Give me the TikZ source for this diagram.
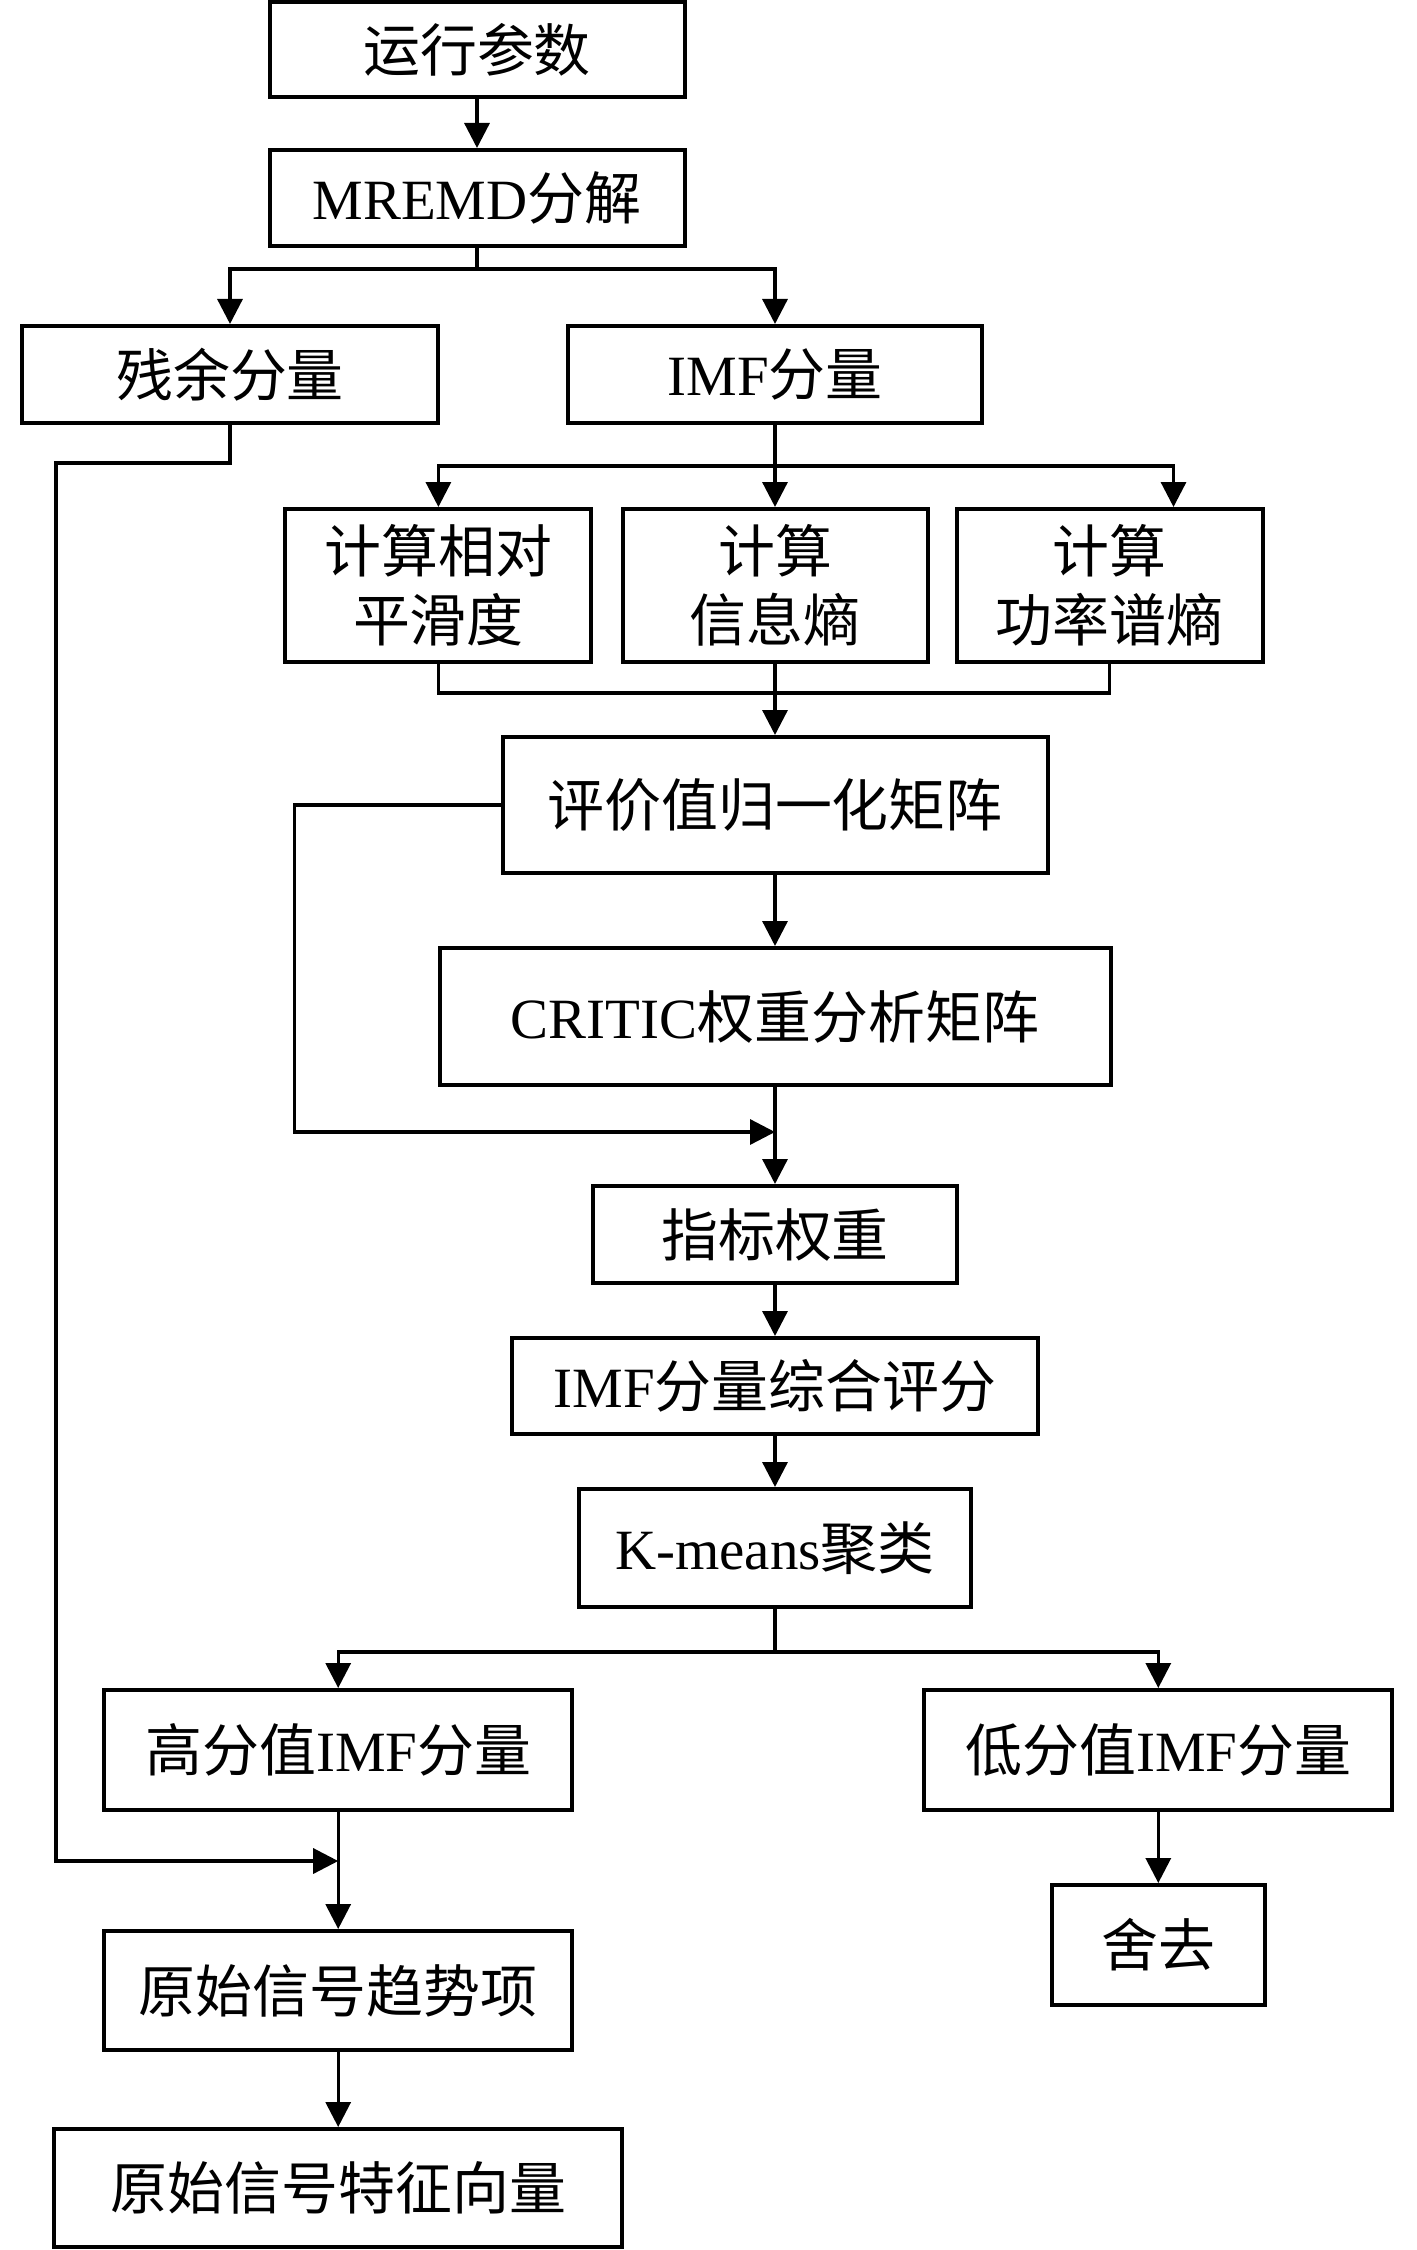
\documentclass[tikz,border=0pt]{standalone}
\usepackage{fontspec}
\setmainfont{Liberation Serif}
\newfontfamily\cjk{Noto Sans CJK SC}
\newcommand\zhs[1]{{\cjk #1}}
\usetikzlibrary{arrows.meta}
\begin{document}
\begin{tikzpicture}[x=0.1mm, y=-0.1mm,
  box/.style={draw, line width=0.4mm, inner sep=0pt, align=center,
    font=\fontsize{16.2pt}{19.6pt}\selectfont},
  conn/.style={line width=0.33mm},
  arr/.style={conn, -{Triangle[length=2.5mm,width=2.5mm]}}]
\useasboundingbox (0,0) rectangle (1417,2250);
% boxes
\node[box, minimum width=41.5mm, minimum height=9.5mm] (run) at (477,50) {\zhs{运行参数}};
\node[box, minimum width=41.5mm, minimum height=9.6mm] (mremd) at (477,198) {MREMD\zhs{分解}};
\node[box, minimum width=41.6mm, minimum height=9.7mm] (res) at (230,374.5) {\zhs{残余分量}};
\node[box, minimum width=41.4mm, minimum height=9.7mm] (imf) at (775,374.5) {IMF\zhs{分量}};
\node[box, minimum width=30.6mm, minimum height=15.3mm] (smooth) at (438.4,585.5) {\zhs{计算相对}\\\zhs{平滑度}};
\node[box, minimum width=30.5mm, minimum height=15.3mm] (info) at (775,585.5) {\zhs{计算}\\\zhs{信息熵}};
\node[box, minimum width=30.6mm, minimum height=15.3mm] (power) at (1109.7,585.5) {\zhs{计算}\\\zhs{功率谱熵}};
\node[box, minimum width=54.5mm, minimum height=13.6mm] (norm) at (775,805) {\zhs{评价值归一化矩阵}};
\node[box, minimum width=67.1mm, minimum height=13.7mm] (critic) at (775,1016.5) {CRITIC\zhs{权重分析矩阵}};
\node[box, minimum width=36.35mm, minimum height=9.7mm] (weight) at (775,1234.5) {\zhs{指标权重}};
\node[box, minimum width=52.65mm, minimum height=9.6mm] (score) at (775,1386) {IMF\zhs{分量综合评分}};
\node[box, minimum width=39.2mm, minimum height=11.8mm] (kmeans) at (775,1548) {K-means\zhs{聚类}};
\node[box, minimum width=46.8mm, minimum height=12mm] (high) at (338.2,1750) {\zhs{高分值}IMF\zhs{分量}};
\node[box, minimum width=46.8mm, minimum height=12mm] (low) at (1158.3,1750) {\zhs{低分值}IMF\zhs{分量}};
\node[box, minimum width=46.8mm, minimum height=11.9mm] (trend) at (338.2,1990.5) {\zhs{原始信号趋势项}};
\node[box, minimum width=21.3mm, minimum height=12mm] (drop) at (1158.3,1945) {\zhs{舍去}};
\node[box, minimum width=56.8mm, minimum height=11.8mm] (feat) at (338.2,2188) {\zhs{原始信号特征向量}};
% connectors
\draw[arr] (run.south) -- (mremd.north);
\coordinate (f1) at (477,269);
\draw[conn] (mremd.south) -- (f1);
\draw[arr] (f1) -| (res.north);
\draw[arr] (f1) -| (imf.north);
% residual path
\coordinate (r1) at (56,463);
\coordinate (r2) at (56,1861);
\coordinate (r3) at (338.2,1861);
\draw[arr] (res.south) -- (res.south |- r1) -- (r1) -- (r2) -- (r3);
% IMF fork
\coordinate (f2) at (775,466);
\coordinate (p1) at (1173.5,466);
\draw[conn] (imf.south) -- (f2);
\draw[arr] (f2) -| (smooth.north);
\draw[arr] (f2) -- (info.north);
\draw[arr] (f2) -- (p1) -- (p1 |- power.north);
% merge
\coordinate (m) at (775,693);
\draw[conn] (smooth.south) |- (m);
\draw[conn] (power.south) |- (m);
\draw[conn] (info.south) -- (m);
\draw[arr] (m) -- (norm.north);
\draw[arr] (norm.south) -- (critic.north);
% loop
\coordinate (l1) at (294.6,1132);
\coordinate (l2) at (775,1132);
\draw[arr] (norm.west) -| (l1) -- (l2);
\draw[arr] (critic.south) -- (weight.north);
\draw[arr] (weight.south) -- (score.north);
\draw[arr] (score.south) -- (kmeans.north);
% kmeans fork
\coordinate (f3) at (775,1652);
\draw[conn] (kmeans.south) -- (f3);
\draw[arr] (f3) -| (high.north);
\draw[arr] (f3) -| (low.north);
\draw[arr] (high.south) -- (trend.north);
\draw[arr] (trend.south) -- (feat.north);
\draw[arr] (low.south) -- (drop.north);
\end{tikzpicture}
\end{document}
